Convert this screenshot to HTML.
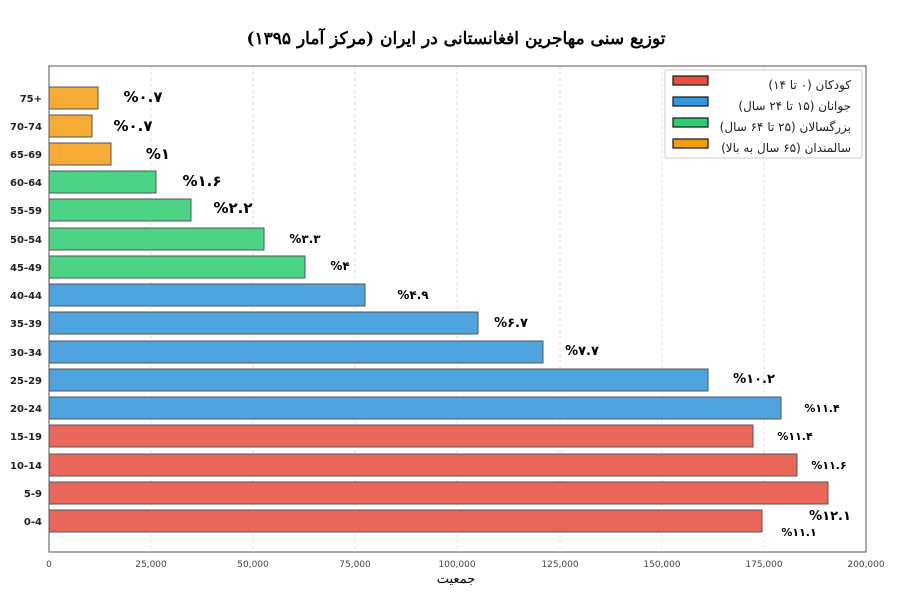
<!DOCTYPE html>
<html><head><meta charset="utf-8"><style>body{margin:0;background:#fff}svg{display:block}</style></head><body>
<svg width="912" height="607" xmlns="http://www.w3.org/2000/svg" font-family="'DejaVu Sans','Liberation Sans',sans-serif">
<rect width="912" height="607" fill="#fff"/>
<text x="456" y="44" text-anchor="middle" font-size="17" font-weight="bold" font-family="'DejaVu Serif','Noto Serif CJK SC',serif">توزیع سنی مهاجرین افغانستانی در ایران (مرکز آمار ۱۳۹۵)</text>
<g stroke="#ddd" stroke-dasharray="3,3">
<line x1="151" y1="66" x2="151" y2="552"/><line x1="253" y1="66" x2="253" y2="552"/><line x1="355" y1="66" x2="355" y2="552"/><line x1="457" y1="66" x2="457" y2="552"/><line x1="560" y1="66" x2="560" y2="552"/><line x1="662" y1="66" x2="662" y2="552"/><line x1="764" y1="66" x2="764" y2="552"/>
</g>
<g stroke="#555" stroke-width="1">
<rect x="49" y="510" width="713" height="22" fill="#e8665a"/>
<rect x="49" y="482" width="779" height="22" fill="#e8665a"/>
<rect x="49" y="454" width="748" height="22" fill="#e8665a"/>
<rect x="49" y="425" width="704" height="22" fill="#e8665a"/>
<rect x="49" y="397" width="732" height="22" fill="#4fa3df"/>
<rect x="49" y="369" width="659" height="22" fill="#4fa3df"/>
<rect x="49" y="341" width="494" height="22" fill="#4fa3df"/>
<rect x="49" y="312" width="429" height="22" fill="#4fa3df"/>
<rect x="49" y="284" width="316" height="22" fill="#4fa3df"/>
<rect x="49" y="256" width="256" height="22" fill="#4cd386"/>
<rect x="49" y="228" width="215" height="22" fill="#4cd386"/>
<rect x="49" y="199" width="142" height="22" fill="#4cd386"/>
<rect x="49" y="171" width="107" height="22" fill="#4cd386"/>
<rect x="49" y="143" width="62" height="22" fill="#f5ab35"/>
<rect x="49" y="115" width="43" height="22" fill="#f5ab35"/>
<rect x="49" y="87" width="49" height="22" fill="#f5ab35"/>
</g>
<rect x="49" y="66" width="817" height="486" fill="none" stroke="#555"/>
<g font-size="10" font-weight="bold" text-anchor="end" fill="#222">
<text x="42" y="525">0-4</text><text x="42" y="497">5-9</text><text x="42" y="469">10-14</text><text x="42" y="440">15-19</text><text x="42" y="412">20-24</text><text x="42" y="384">25-29</text><text x="42" y="356">30-34</text><text x="42" y="327">35-39</text><text x="42" y="299">40-44</text><text x="42" y="271">45-49</text><text x="42" y="243">50-54</text><text x="42" y="214">55-59</text><text x="42" y="186">60-64</text><text x="42" y="158">65-69</text><text x="42" y="130">70-74</text><text x="42" y="102">75+</text>
</g>
<g font-size="9" text-anchor="middle" fill="#444">
<text x="49" y="567">0</text><text x="151" y="567">25,000</text><text x="253" y="567">50,000</text><text x="355" y="567">75,000</text><text x="457" y="567">100,000</text><text x="560" y="567">125,000</text><text x="662" y="567">150,000</text><text x="764" y="567">175,000</text><text x="866" y="567">200,000</text>
</g>
<text x="456" y="583" text-anchor="middle" font-size="13" font-family="'DejaVu Serif',serif">جمعیت</text>
<g font-weight="bold" text-anchor="middle" fill="#000">
<text x="143" y="102" font-size="15">%۰.۷</text>
<text x="133" y="131" font-size="15">%۰.۷</text>
<text x="158" y="159" font-size="15">%۱</text>
<text x="202" y="186" font-size="15">%۱.۶</text>
<text x="233" y="213" font-size="15">%۲.۲</text>
<text x="305" y="243" font-size="12">%۳.۳</text>
<text x="340" y="270" font-size="12">%۴</text>
<text x="413" y="299" font-size="12">%۴.۹</text>
<text x="511" y="327" font-size="13">%۶.۷</text>
<text x="582" y="355" font-size="13">%۷.۷</text>
<text x="754" y="383" font-size="13">%۱۰.۲</text>
<text x="822" y="412" font-size="11">%۱۱.۴</text>
<text x="795" y="440" font-size="11">%۱۱.۴</text>
<text x="829" y="469" font-size="11">%۱۱.۶</text>
<text x="830" y="520" font-size="13">%۱۲.۱</text>
<text x="799" y="536" font-size="11">%۱۱.۱</text>
</g>
<rect x="665" y="70" width="197" height="88" fill="#fff" stroke="#ccc" rx="2"/>
<g stroke="#222" stroke-width="1.3">
<rect x="673" y="76" width="35" height="9" fill="#e74c3c"/>
<rect x="673" y="97" width="35" height="9" fill="#3498db"/>
<rect x="673" y="118" width="35" height="9" fill="#2ecc71"/>
<rect x="673" y="139" width="35" height="9" fill="#f39c12"/>
</g>
<g font-size="12" text-anchor="end" fill="#222">
<text x="851" y="89">کودکان (۰ تا ۱۴)</text>
<text x="851" y="110">جوانان (۱۵ تا ۲۴ سال)</text>
<text x="851" y="131">بزرگسالان (۲۵ تا ۶۴ سال)</text>
<text x="851" y="152">سالمندان (۶۵ سال به بالا)</text>
</g>
</svg>
</body></html>
